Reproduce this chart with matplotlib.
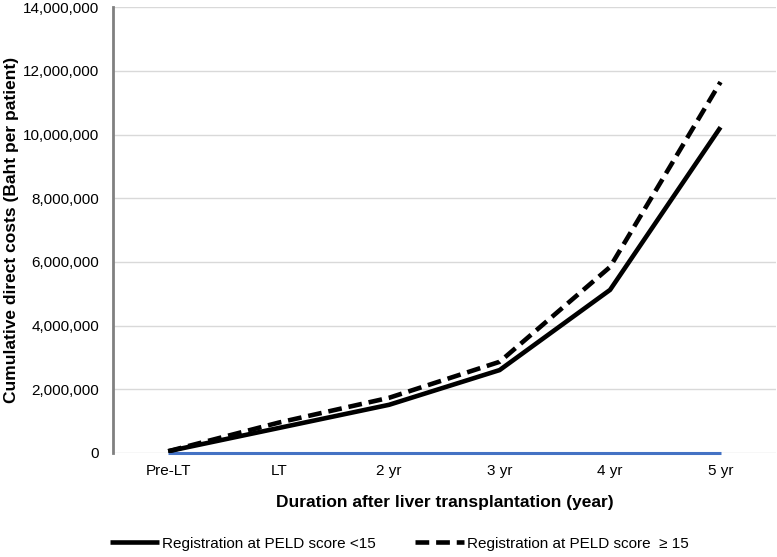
import numpy as np
import matplotlib.pyplot as plt

plt.rcParams['font.family'] = ['Liberation Sans', 'DejaVu Sans']

# данные
categories = ['Pre-LT', 'LT', '2 yr', '3 yr', '4 yr', '5 yr']
peld_low = [50000, 780000, 1510000, 2600000, 5120000, 10230000]
peld_high = [50000, 950000, 1730000, 2860000, 5840000, 11650000]
baseline = [0, 0, 0, 0, 0, 0]
yticks = np.arange(0, 14000001, 2000000)

fig = plt.figure(figsize=(7.77, 5.57), dpi=100)
ax = fig.add_axes([0.1454, 0.187, 0.853, 0.8])
x = np.arange(len(categories))

ax.plot(x, baseline, color='#4472C4', lw=2.2, solid_capstyle='butt', label='_nolegend_',
        zorder=3, clip_on=False)
ax.plot(x, peld_low, color='black', lw=3.3, solid_capstyle='butt', label='Registration at PELD score <15', zorder=4)
ax.plot(x, peld_high, color='black', lw=3.3, linestyle=(0, (3, 1.5)), dash_capstyle='butt',
        label='Registration at PELD score  \u2265 15', zorder=5)

ax.set_xlim(-0.5, len(categories) - 0.5)
ax.set_ylim(0, 14000000)
ax.set_yticks(yticks)
ax.set_yticklabels([f'{v:,}' for v in yticks], fontsize=11)
ax.set_xticks(x)
ax.set_xticklabels(categories, fontsize=11)
ax.tick_params(axis='y', length=0, pad=10)
ax.tick_params(axis='x', length=0, pad=8)

ax.grid(axis='y', color='#d9d9d9', lw=1)
ax.set_axisbelow(True)
for s in ['top', 'right', 'bottom']:
    ax.spines[s].set_visible(False)
ax.spines['left'].set_color('#808080')
ax.spines['left'].set_linewidth(2)

ax.set_xlabel('Duration after liver transplantation (year)', fontsize=12.5, fontweight='bold', labelpad=12)
ax.set_ylabel('Cumulative direct costs (Baht per patient)', fontsize=12.5, fontweight='bold', labelpad=3)

fig.legend(loc='center left', bbox_to_anchor=(0.1416, 0.024), ncol=2, frameon=False, fontsize=11,
           handlelength=3.2, handletextpad=0.2, columnspacing=2.6, borderpad=0, borderaxespad=0)

fig.savefig('out.png', dpi=100)
